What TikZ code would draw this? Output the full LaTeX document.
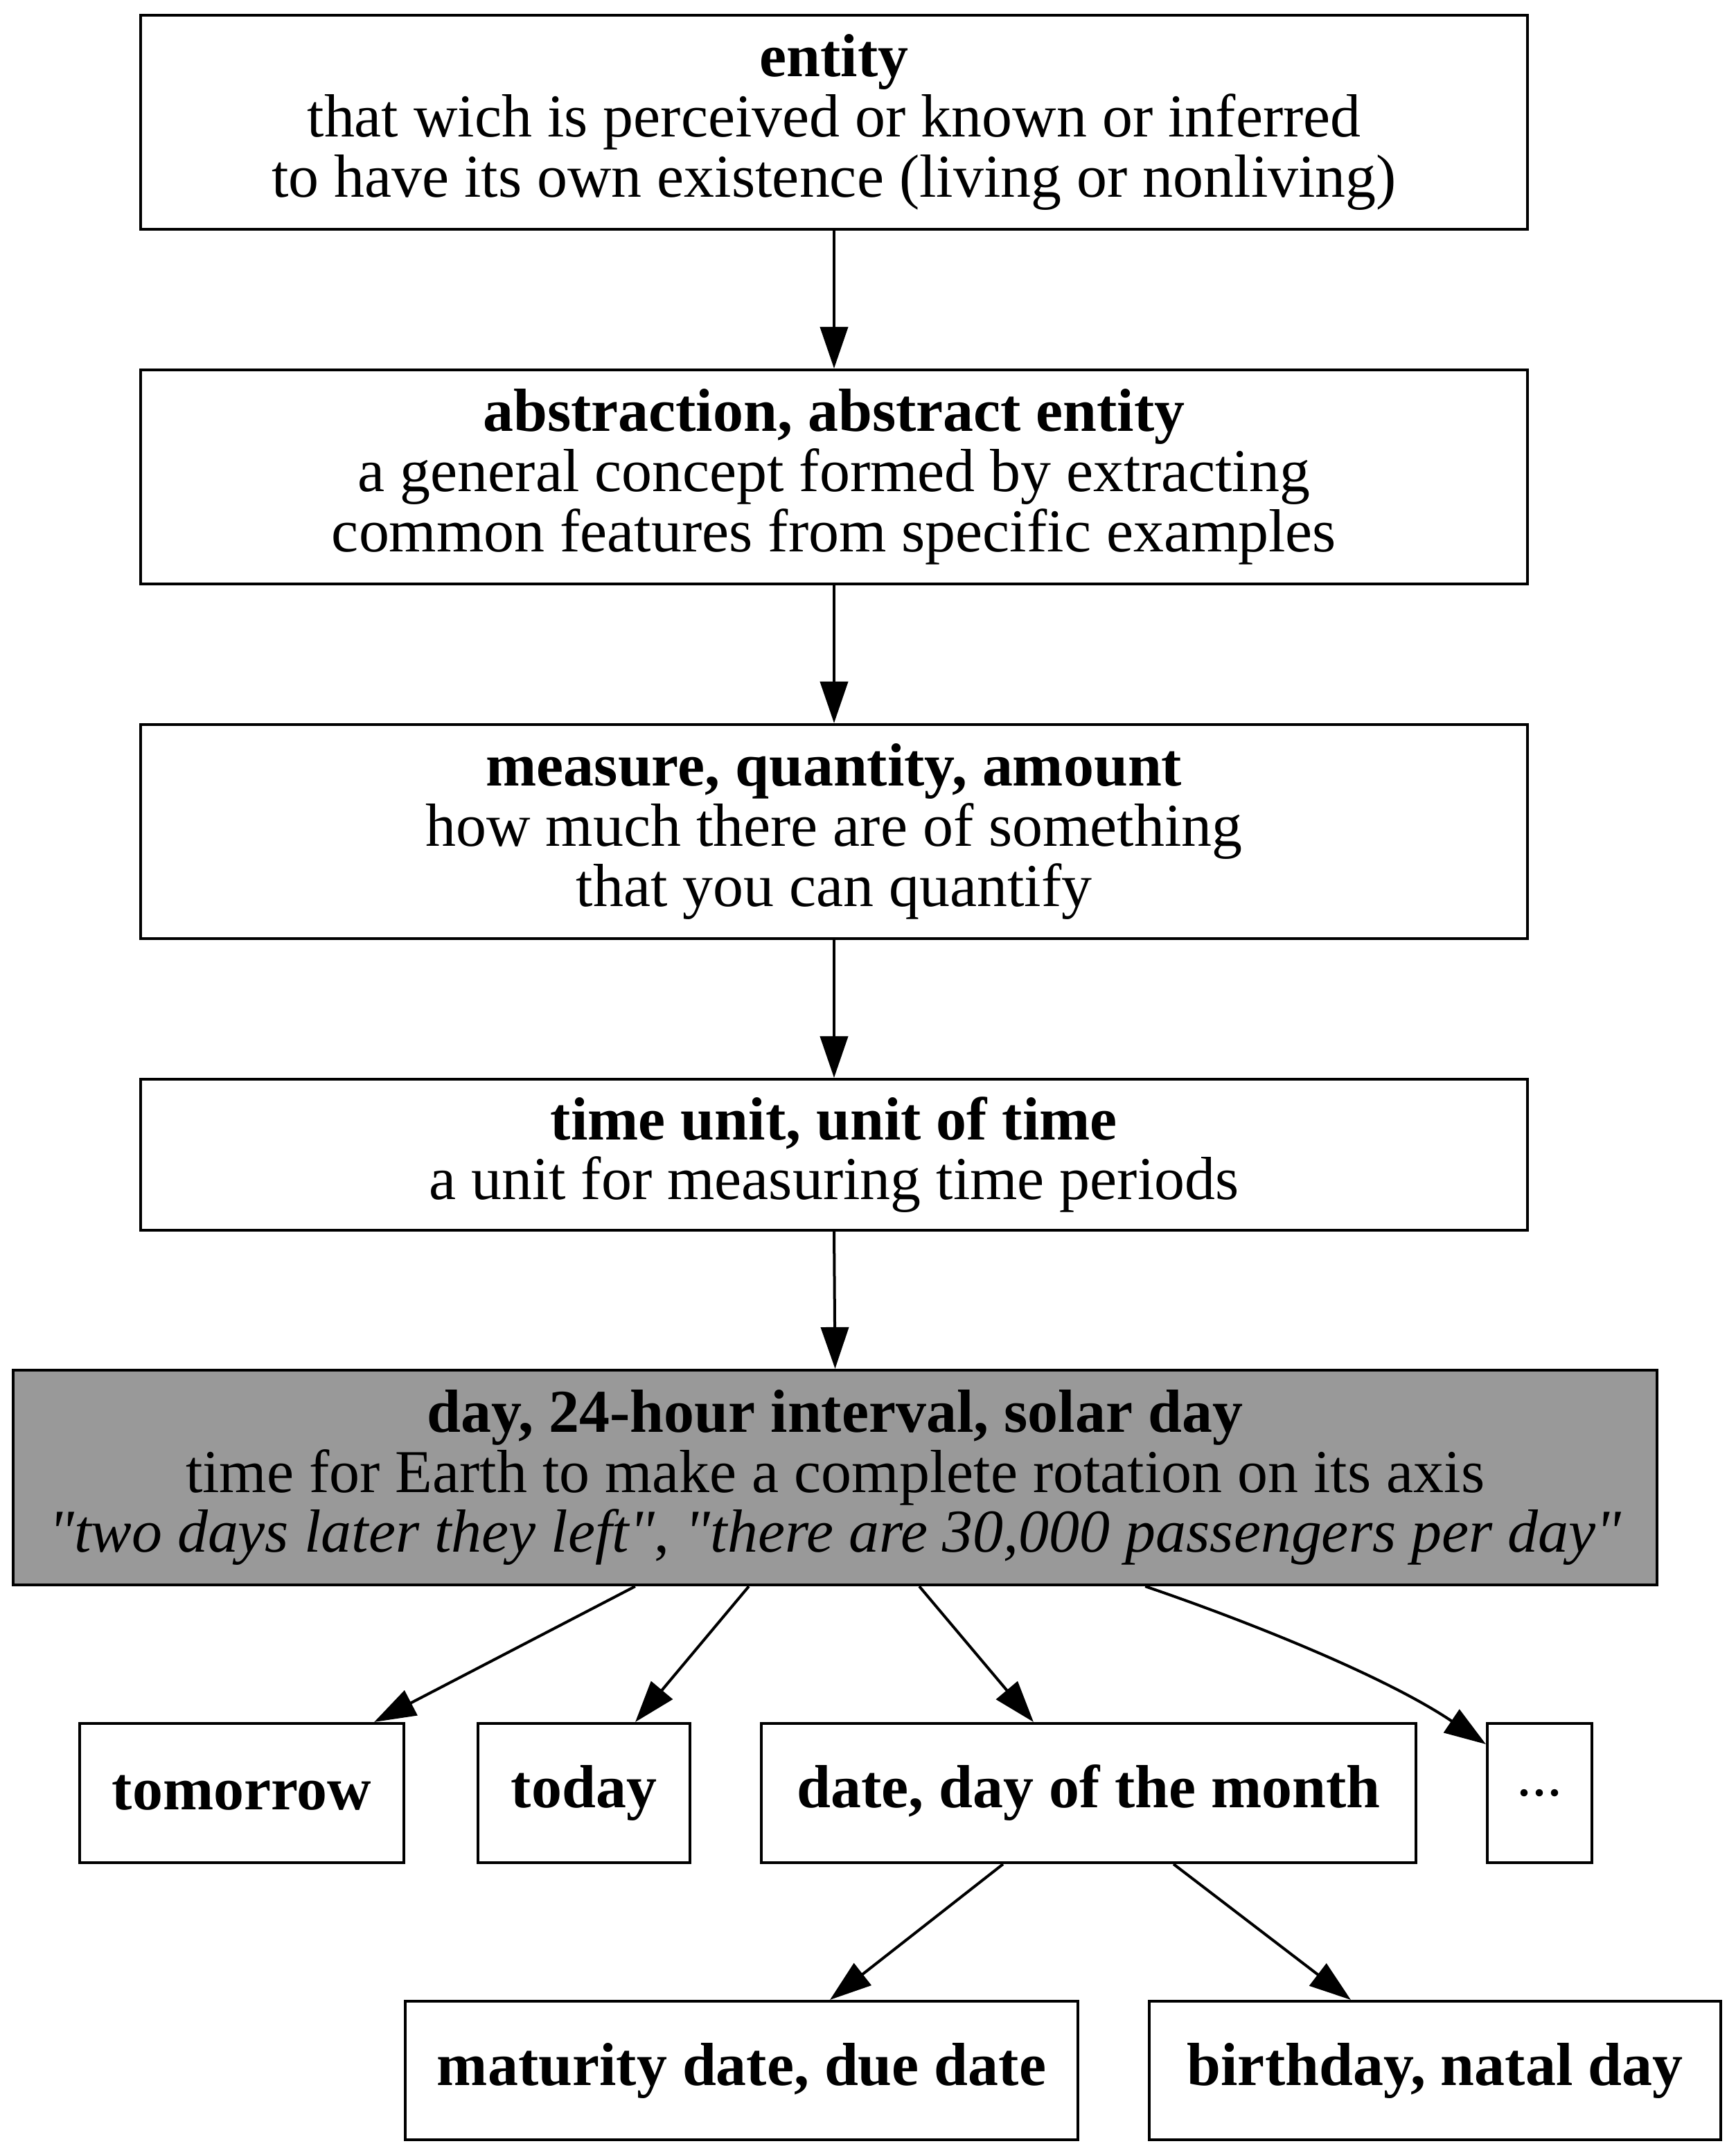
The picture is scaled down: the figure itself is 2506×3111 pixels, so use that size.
\documentclass[tikz,border=0pt]{standalone}
\usepackage{fontspec}
\defaultfontfeatures{}
\setmainfont{Liberation Serif}[Ligatures=TeXOff]
\usetikzlibrary{arrows.meta}
\definecolor{daygray}{HTML}{999999}
\begin{document}
\begin{tikzpicture}[x=0.01cm,y=-0.01cm,
 box/.style={draw, line width=0.04cm, inner sep=0pt, align=center, font=\fontsize{25}{24.7}\selectfont},
 edge/.style={line width=0.04cm, -{Triangle[length=0.6cm,width=0.4cm]}}]
\useasboundingbox (0,0) rectangle (2506,3111);
\node[box, minimum width=20cm, minimum height=3.09cm] (entity) at (1204,176.5)
 {\textbf{entity}\\that wich is perceived or known or inferred\\to have its own existence (living or nonliving)};
\node[box, minimum width=20cm, minimum height=3.09cm] (abstr) at (1204,688.5)
 {\textbf{abstraction, abstract entity}\\a general concept formed by extracting\\common features from specific examples};
\node[box, minimum width=20cm, minimum height=3.09cm] (measure) at (1204,1200.5)
 {\textbf{measure, quantity, amount}\\how much there are of something\\that you can quantify};
\node[box, minimum width=20cm, minimum height=2.18cm] (tunit) at (1204,1667)
 {\textbf{time unit, unit of time}\\a unit for measuring time periods};
\node[box, fill=daygray, minimum width=23.71cm, minimum height=3.10cm] (day) at (1205.5,2133)
 {\textbf{day, 24-hour interval, solar day}\\time for Earth to make a complete rotation on its axis\\\textit{"two days later they left"}, \textit{"there are 30,000 passengers per day"}};
\node[box, minimum width=4.68cm, minimum height=2.01cm] (tomorrow) at (349,2588.5) {\textbf{tomorrow}};
\node[box, minimum width=3.06cm, minimum height=2.01cm] (today) at (843,2588.5) {\textbf{today}};
\node[box, minimum width=9.45cm, minimum height=2.01cm] (date) at (1571.5,2588.5) {\textbf{date, day of the month}};
\node[box, minimum width=1.51cm, minimum height=2.01cm] (dots) at (2222.5,2588.5) {...};
\node[box, minimum width=9.71cm, minimum height=2.00cm] (matur) at (1070.5,2989) {\textbf{maturity date, due date}};
\node[box, minimum width=8.25cm, minimum height=2.00cm] (birth) at (2071.5,2989) {\textbf{birthday, natal day}};
\draw[edge] (entity.south) -- (abstr.north);
\draw[edge] (abstr.south) -- (measure.north);
\draw[edge] (measure.south) -- (tunit.north);
\draw[edge] (tunit.south) -- (day.north);
\draw[edge] ([xshift=-2.885cm]day.south) -- ([xshift=1.91cm]tomorrow.north);
\draw[edge] ([xshift=-1.245cm]day.south) -- ([xshift=0.74cm]today.north);
\draw[edge] ([xshift=1.215cm]day.south) -- ([xshift=-0.795cm]date.north);
\draw[edge] ([xshift=4.475cm]day.south) .. controls (1800,2340) and (2000,2420) .. ([yshift=-0.32cm]dots.north west);
\draw[edge] ([xshift=-1.235cm]date.south) -- ([xshift=1.275cm]matur.north);
\draw[edge] ([xshift=1.225cm]date.south) -- ([xshift=-1.215cm]birth.north);
\end{tikzpicture}
\end{document}
